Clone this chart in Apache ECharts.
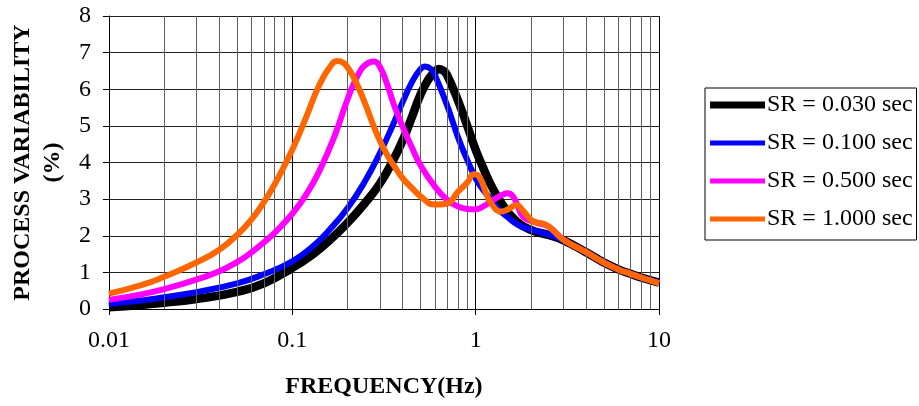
<!DOCTYPE html>
<html>
<head>
<meta charset="utf-8">
<script src="https://cdn.jsdelivr.net/npm/echarts@6/dist/echarts.min.js"></script>
<style>
  html, body { margin: 0; padding: 0; background: #ffffff; }
  #chart { width: 919px; height: 406px; }
</style>
</head>
<body>
<div id="chart"></div>
<script>
// Process variability vs. disturbance frequency for four sample rates
const seriesNames = ['SR = 0.030 sec', 'SR = 0.100 sec', 'SR = 0.500 sec', 'SR = 1.000 sec'];
const seriesColors = ['#000000', '#0000ff', '#ff00ff', '#ff6600'];
const seriesWidths = [8.5, 6, 6, 6];

// SR = 0.030 sec
const freqSR030 = [0.01, 0.015, 0.02, 0.03, 0.05, 0.07, 0.1, 0.13, 0.16, 0.2, 0.25, 0.3, 0.35, 0.4, 0.45, 0.5, 0.55, 0.6, 0.63, 0.67, 0.7, 0.8, 0.9, 1.0, 1.1, 1.2, 1.4, 1.67, 2, 2.5, 3, 4, 5, 6, 7, 8, 10];
const valSR030  = [0.05, 0.11, 0.17, 0.27, 0.47, 0.7, 1.12, 1.5, 1.88, 2.35, 2.9, 3.42, 4.0, 4.6, 5.25, 5.85, 6.25, 6.48, 6.55, 6.5, 6.38, 5.7, 5.0, 4.35, 3.85, 3.43, 2.85, 2.39, 2.16, 2.02, 1.88, 1.55, 1.27, 1.08, 0.96, 0.86, 0.72];

// SR = 0.100 sec
const freqSR100 = [0.01, 0.015, 0.02, 0.03, 0.05, 0.07, 0.1, 0.13, 0.16, 0.2, 0.25, 0.3, 0.35, 0.4, 0.45, 0.5, 0.53, 0.57, 0.6, 0.7, 0.8, 0.9, 1.0, 1.1, 1.2, 1.35, 1.5, 1.7, 2, 2.5, 3, 4, 5, 6, 7, 8, 10];
const valSR100  = [0.14, 0.23, 0.32, 0.46, 0.7, 0.95, 1.3, 1.72, 2.17, 2.75, 3.5, 4.25, 4.97, 5.65, 6.2, 6.55, 6.62, 6.55, 6.38, 5.55, 4.7, 4.07, 3.57, 3.25, 3.02, 2.7, 2.5, 2.3, 2.17, 2.03, 1.88, 1.55, 1.27, 1.08, 0.96, 0.86, 0.72];

// SR = 0.500 sec
const freqSR500 = [0.01, 0.015, 0.02, 0.03, 0.04, 0.05, 0.06, 0.07, 0.08, 0.1, 0.12, 0.14, 0.17, 0.2, 0.23, 0.26, 0.28, 0.3, 0.33, 0.36, 0.4, 0.45, 0.5, 0.6, 0.7, 0.8, 0.9, 1.0, 1.1, 1.25, 1.4, 1.5, 1.6, 1.7, 1.83, 2.15, 2.5, 3, 4, 5, 6, 7, 8, 10];
const valSR500  = [0.25, 0.4, 0.54, 0.8, 1.03, 1.28, 1.55, 1.82, 2.08, 2.6, 3.15, 3.75, 4.72, 5.72, 6.42, 6.72, 6.76, 6.62, 6.12, 5.55, 4.98, 4.4, 3.93, 3.34, 2.98, 2.8, 2.73, 2.72, 2.8, 2.98, 3.12, 3.16, 3.07, 2.8, 2.5, 2.36, 2.25, 1.9, 1.55, 1.27, 1.08, 0.96, 0.86, 0.71];

// SR = 1.000 sec
const freqSR1000 = [0.01, 0.015, 0.02, 0.03, 0.04, 0.05, 0.06, 0.07, 0.08, 0.09, 0.1, 0.11, 0.12, 0.14, 0.16, 0.176, 0.19, 0.2, 0.22, 0.25, 0.28, 0.3, 0.33, 0.36, 0.4, 0.45, 0.5, 0.6, 0.7, 0.8, 0.9, 0.98, 1.05, 1.16, 1.25, 1.37, 1.5, 1.67, 1.8, 2.06, 2.2, 2.37, 2.6, 3, 4, 5, 6, 7, 8, 10];
const valSR1000  = [0.42, 0.65, 0.88, 1.27, 1.62, 2.02, 2.45, 2.92, 3.4, 3.88, 4.35, 4.82, 5.28, 6.1, 6.6, 6.77, 6.72, 6.6, 6.25, 5.6, 4.95, 4.6, 4.2, 3.9, 3.57, 3.3, 3.08, 2.85, 2.88, 3.2, 3.45, 3.68, 3.6, 3.07, 2.8, 2.66, 2.72, 2.84, 2.7, 2.39, 2.35, 2.32, 2.18, 1.9, 1.55, 1.27, 1.08, 0.96, 0.86, 0.7];

const freqLists = [freqSR030, freqSR100, freqSR500, freqSR1000];
const valueLists = [valSR030, valSR100, valSR500, valSR1000];

// Axis ticks
const xTickLabels = ['0.01', '0.1', '1', '10'];
const yTickLabels = ['0', '1', '2', '3', '4', '5', '6', '7', '8'];
const decades = [0.01, 0.1, 1];
const minorMultipliers = [2, 3, 4, 5, 6, 7, 8, 9];
const minorGridFreqs = [];
decades.forEach(d => minorMultipliers.forEach(m => minorGridFreqs.push(+(m * d).toPrecision(3))));

const FONT = "'Liberation Serif', 'Times New Roman', serif";

// Legend swatches: a thick bar for the first entry, thinner bars for the rest,
// all inside the same 55x7 frame so they line up.
const legendIcons = [
  'path://M0,0H55V7H0Z',
  'path://M0,0L0,0M0,1H55V6H0ZM0,7L0,7',
  'path://M0,0L0,0M0,1H55V6H0ZM0,7L0,7',
  'path://M0,0L0,0M0,1H55V6H0ZM0,7L0,7'
];

const curveSeries = seriesNames.map((name, i) => ({
  name: name,
  type: 'line',
  data: freqLists[i].map((f, k) => [f, valueLists[i][k]]),
  showSymbol: false,
  symbol: 'none',
  smooth: 0.5,
  z: 3 + i,
  lineStyle: { color: seriesColors[i], width: seriesWidths[i] },
  itemStyle: { color: seriesColors[i] },
  emphasis: { disabled: true },
  animation: false
}));

// Minor vertical grid lines at 2..9 within each decade
const minorGridSeries = {
  type: 'line',
  data: [],
  silent: true,
  z: 1,
  animation: false,
  markLine: {
    silent: true,
    symbol: ['none', 'none'],
    label: { show: false },
    animation: false,
    emphasis: { disabled: true },
    lineStyle: { color: '#606060', width: 1, type: 'solid' },
    data: minorGridFreqs.map(v => ({ xAxis: v }))
  }
};

const chart = echarts.init(document.getElementById('chart'), null, { renderer: 'canvas' });
chart.setOption({
  animation: false,
  backgroundColor: '#ffffff',
  textStyle: { fontFamily: FONT, color: '#000' },
  grid: { left: 108, right: 260, top: 16, bottom: 97, containLabel: false },
  legend: {
    data: seriesNames.map((n, i) => ({ name: n, icon: legendIcons[i], itemStyle: { color: seriesColors[i] } })),
    orient: 'vertical',
    left: 705,
    top: 88,
    padding: [5, 4, 9, 5],
    itemGap: 14,
    itemWidth: 55,
    itemHeight: 7,
    borderColor: '#000',
    borderWidth: 1,
    textStyle: { fontFamily: FONT, fontSize: 24, color: '#000', padding: [0, 0, 0, -3] },
    selectedMode: false
  },
  xAxis: {
    type: 'log',
    logBase: 10,
    min: 0.01,
    max: 10,
    name: 'FREQUENCY(Hz)',
    nameLocation: 'middle',
    nameGap: 66,
    nameTextStyle: { fontFamily: FONT, fontSize: 24, fontWeight: 'bold', color: '#000' },
    axisLine: { show: true, lineStyle: { color: '#000', width: 1 } },
    axisTick: { show: true, inside: false, length: 6, lineStyle: { color: '#000' } },
    axisLabel: {
      fontFamily: FONT, fontSize: 24, color: '#000', margin: 20,
      formatter: v => xTickLabels[Math.round(Math.log10(v)) + 2]
    },
    splitLine: { show: true, lineStyle: { color: '#000', width: 1 } },
    minorTick: { show: false },
    minorSplitLine: { show: false }
  },
  yAxis: {
    type: 'value',
    min: 0,
    max: 8,
    interval: 1,
    name: 'PROCESS VARIABILITY\n(%)',
    nameLocation: 'middle',
    nameRotate: 90,
    nameGap: 40,
    nameTextStyle: { fontFamily: FONT, fontSize: 24, fontWeight: 'bold', color: '#000', lineHeight: 30, align: 'center' },
    axisLine: { show: true, lineStyle: { color: '#000', width: 1 } },
    axisTick: { show: true, inside: false, length: 6, lineStyle: { color: '#000' } },
    axisLabel: {
      fontFamily: FONT, fontSize: 24, color: '#000', margin: 18,
      formatter: v => yTickLabels[Math.round(v)]
    },
    splitLine: { show: true, lineStyle: { color: '#222', width: 1 } }
  },
  series: [minorGridSeries].concat(curveSeries)
});
</script>
</body>
</html>
